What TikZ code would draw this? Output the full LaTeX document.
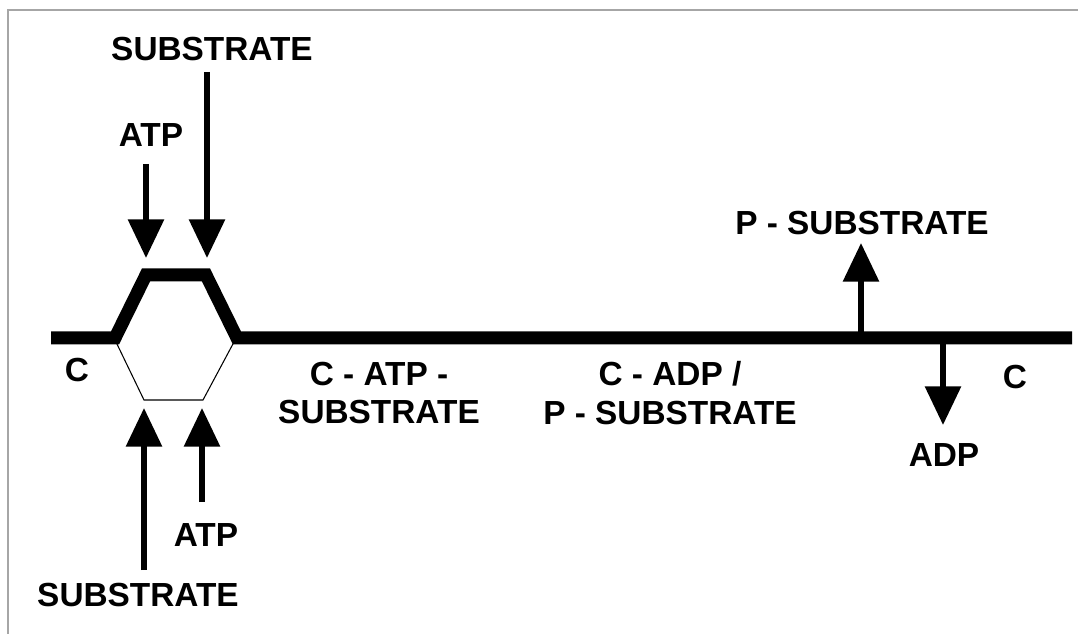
\documentclass[tikz,border=0pt]{standalone}
\usepackage{fontspec}
\setmainfont{Liberation Sans}
\usetikzlibrary{arrows.meta}

\begin{document}
\begin{tikzpicture}[x=0.02cm, y=-0.02cm,
  lbl/.style={font=\fontsize{19}{22}\selectfont\bfseries, align=center, inner sep=0pt},
  flow/.style={line width=3.2pt, -{Triangle[width=20pt,length=22pt]}},
  chain/.style={line width=7.4pt, line join=miter}]
\useasboundingbox (0,0) rectangle (1078,634);

% FRAME
  \draw[gray!70, line width=0.6pt] (8,634) -- (8,10) -- (1078,10);

% ENZYME CHAIN
  \coordinate (hexL)  at (115,338);
  \coordinate (hexTL) at (146,275);
  \coordinate (hexTR) at (206,275);
  \coordinate (hexR)  at (237,338);
  \coordinate (hexBL) at (144,400);
  \coordinate (hexBR) at (203,400);
  \draw[chain] (51,338) -- (hexL) -- (hexTL) -- (hexTR) -- (hexR) -- (1072,338);
  \draw[line width=0.6pt] (116,342) -- (hexBL) -- (hexBR) -- (234,342);

% LABELS
  \node[lbl] (subTop) at (212,49)  {SUBSTRATE};
  \node[lbl] (atpTop) at (151,135) {ATP};
  \node[lbl] (atpBot) at (206,535) {ATP};
  \node[lbl] (subBot) at (138,595) {SUBSTRATE};
  \node[lbl] (cLeft)  at (77,370)  {C};
  \node[lbl] (cRight) at (1015,377) {C};
  \node[lbl] (cAtpSub) at (379,393) {C - ATP -\\SUBSTRATE};
  \node[lbl] (cAdpPSub) at (670,393) {C - ADP /\\P - SUBSTRATE};
  \node[lbl] (pSub)   at (862,223) {P - SUBSTRATE};
  \node[lbl] (adp)    at (944,455) {ADP};

% ARROWS IN
  \coordinate (atpTopTail) at (146,164);
  \coordinate (atpTopTip)  at (146,258);
  \coordinate (subTopTail) at (207,72);
  \coordinate (subTopTip)  at (207,258);
  \coordinate (subBotTail) at (144,570);
  \coordinate (subBotTip)  at (144,408);
  \coordinate (atpBotTail) at (202,502);
  \coordinate (atpBotTip)  at (202,408);
  \draw[flow] (atpTopTail) -- (atpTopTip);
  \draw[flow] (subTopTail) -- (subTopTip);
  \draw[flow] (subBotTail) -- (subBotTip);
  \draw[flow] (atpBotTail) -- (atpBotTip);

% ARROWS OUT
  \coordinate (pSubTail) at (861,336);
  \coordinate (pSubTip)  at (861,243);
  \coordinate (adpTail)  at (943,340);
  \coordinate (adpTip)   at (943,425);
  \draw[flow] (pSubTail) -- (pSubTip);
  \draw[flow] (adpTail) -- (adpTip);

\end{tikzpicture}
\end{document}
